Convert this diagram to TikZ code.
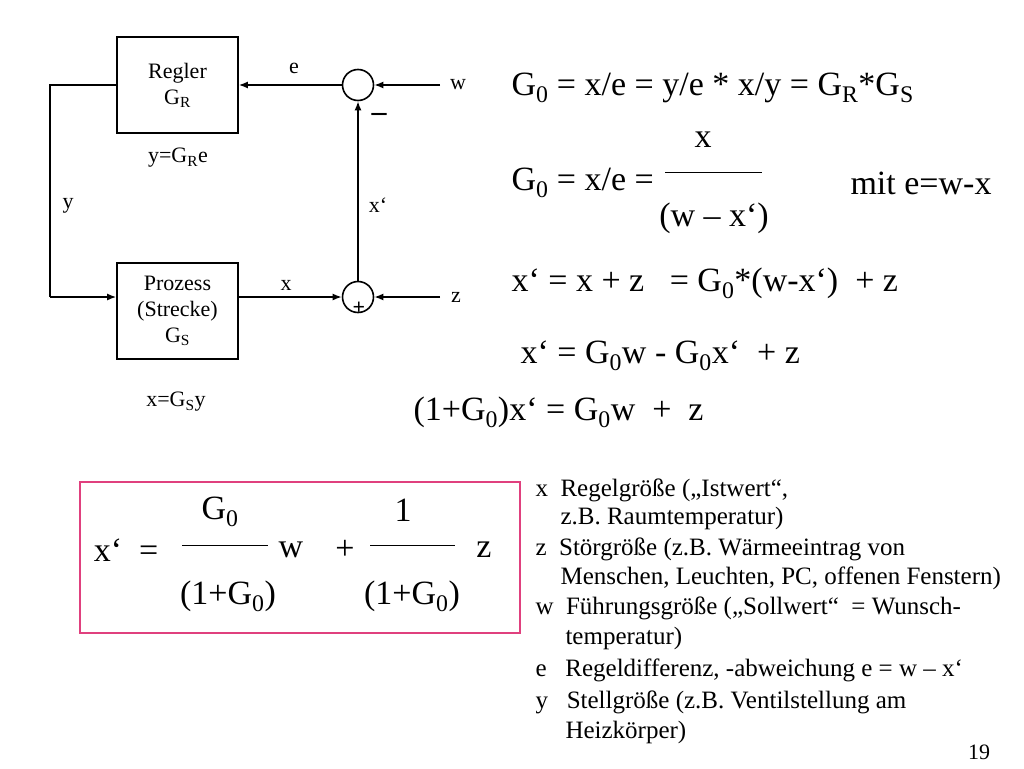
\documentclass[tikz,border=0pt]{standalone}
\usepackage{fontspec}
\setmainfont{Liberation Serif}
\usetikzlibrary{positioning,arrows.meta}
\definecolor{boxpink}{HTML}{E0407E}
\begin{document}
\begin{tikzpicture}[x=1pt,y=-1pt,
    block/.style={draw, line width=1.6pt, minimum width=121pt, minimum height=96pt, align=center, font=\fontsize{22}{26}\selectfont},
    sumpt/.style={draw, circle, line width=1.6pt, minimum size=31pt, inner sep=0pt},
    lbl/.style={font=\fontsize{22}{26}\selectfont},
    big/.style={font=\fontsize{34}{40}\selectfont, anchor=west},
    lst/.style={font=\fontsize{25}{30}\selectfont, anchor=west},
    sig/.style={line width=1.6pt, -{Latex[length=9pt,width=7pt]}}]
    \useasboundingbox (0,0) rectangle (1024,768);

    % block diagram
    \node[block] (regler) at (177.5,85) {Regler\\G\textsubscript{R}};
    \node[block] (prozess) at (177.5,311) {Prozess\\(Strecke)\\G\textsubscript{S}};
    \node[sumpt] (s1) at (358,85) {};
    \node[sumpt] (s2) at (358,297) {};
    \coordinate (win) at (440,85);
    \coordinate (zin) at (440,297);
    \coordinate (yl1) at (50,85);
    \coordinate (yl2) at (50,297);
    \draw[sig] (win) -- (s1);
    \draw[sig] (zin) -- (s2);
    \draw[sig] (s1) -- (regler.east |- s1);
    \draw[line width=1.6pt] (regler.west |- yl1) -- (yl1) -- (yl2);
    \draw[sig] (yl2) -- (prozess.west |- yl2);
    \draw[sig] (prozess.east |- s2) -- (s2);
    \draw[sig] (s2) -- (s1);
    \node[lbl] (lw) at (458,85) {w};
    \node[lbl] (lz) at (456,297) {z};
    \node[lbl] (le) at (294,68) {e};
    \node[lbl] (lx) at (286,285) {x};
    \node[lbl] (ly) at (68,206) {y};
    \node[lbl] (lxs) at (378,205) {x‘};
    \node[font=\bfseries\fontsize{30}{34}\selectfont] (minus) at (379,117) {–};
    \node[font=\bfseries\fontsize{22}{24}\selectfont] (plus) at (359,308) {+};
    \node[lbl] (gr) at (178,158) {y=G\textsubscript{R}e};
    \node[lbl] (gs) at (176,402) {x=G\textsubscript{S}y};

    % equations
    \node[big] (eq1) at (508,88) {G\textsubscript{0} = x/e = y/e * x/y = G\textsubscript{R}*G\textsubscript{S}};
    \node[big] (eq2) at (508,183) {G\textsubscript{0} = x/e =};
    \node[font=\fontsize{34}{40}\selectfont] (eq2n) at (703,140) {x};
    \draw (665,172) -- (762,172);
    \node[font=\fontsize{34}{40}\selectfont] (eq2d) at (714,218) {(w – x‘)};
    \node[big] (eq2m) at (847,183) {mit e=w-x};
    \node[big] (eq3) at (508,283) {x‘ = x + z \ \ = G\textsubscript{0}*(w-x‘) \ + z};
    \node[big] (eq4) at (517,356) {x‘ = G\textsubscript{0}w - G\textsubscript{0}x‘ \ + z};
    \node[big] (eq5) at (410,412) {(1+G\textsubscript{0})x‘ = G\textsubscript{0}w \ + \ z};

    % result box
    \draw[boxpink, line width=2.2pt] (80,482) rectangle (520,633);
    \begin{scope}[every node/.style={font=\fontsize{34}{40}\selectfont}]
        \node (rx) at (126,550) {x‘ \ =};
        \node (rg0) at (220,512) {G\textsubscript{0}};
        \node (rd1) at (228,596) {(1+G\textsubscript{0})};
        \node (rw) at (291,550) {w};
        \node (rp) at (345,550) {+};
        \node (r1) at (403,510) {1};
        \node (rd2) at (412,596) {(1+G\textsubscript{0})};
        \node (rz) at (484,550) {z};
    \end{scope}
    \draw (182,545) -- (268,545);
    \draw (370,545) -- (455,545);

    % legend
    \node[lst] (l1) at (532,490) {x \ Regelgröße („Istwert“,};
    \node[lst] (l2) at (557,518) {z.B. Raumtemperatur)};
    \node[lst] (l3) at (532,549) {z \ Störgröße (z.B. Wärmeeintrag von};
    \node[lst] (l4) at (557,578) {Menschen, Leuchten, PC, offenen Fenstern)};
    \node[lst] (l5) at (532,608) {w \ Führungsgröße („Sollwert“ \ = Wunsch-};
    \node[lst] (l6) at (562,638) {temperatur)};
    \node[lst] (l7) at (532,670) {e \ \ Regeldifferenz, -abweichung e = w – x‘};
    \node[lst] (l8) at (532,702) {y \ \ Stellgröße (z.B. Ventilstellung am};
    \node[lst] (l9) at (562,732) {Heizkörper)};
    \node[font=\fontsize{22}{26}\selectfont] (pg) at (979,752) {19};
\end{tikzpicture}
\end{document}
